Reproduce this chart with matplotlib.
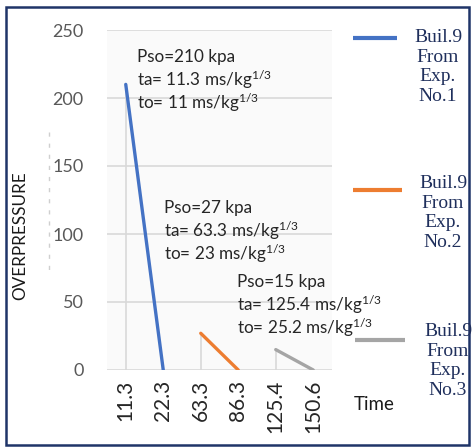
import matplotlib
matplotlib.use("Agg")
import matplotlib.pyplot as plt
from matplotlib.lines import Line2D
from matplotlib.patches import Rectangle

# ---- data ----
time_labels = ["11.3", "22.3", "63.3", "86.3", "125.4", "150.6"]
series_names = ["Buil.9\nFrom\nExp.\nNo.1", "Buil.9\nFrom\nExp.\nNo.2", "Buil.9\nFrom\nExp.\nNo.3"]
series_idx = [[0, 1], [2, 3], [4, 5]]
pso = [210, 27, 15]          # peak overpressure, kPa
ta = [11.3, 63.3, 125.4]     # arrival time
to = [11, 23, 25.2]          # positive phase duration
series_vals = [[pso[0], 0], [pso[1], 0], [pso[2], 0]]
colors = ["#4472C4", "#ED7D31", "#A5A5A5"]
y_ticks = [0, 50, 100, 150, 200, 250]

plt.rcParams["mathtext.fontset"] = "custom"
plt.rcParams["mathtext.rm"] = "Lato"
plt.rcParams["mathtext.it"] = "Lato"
plt.rcParams["font.family"] = ["Lato", "DejaVu Sans"]

W, H = 473, 448
fig = plt.figure(figsize=(W / 100, H / 100), dpi=100)
fig.patch.set_facecolor("white")


def fx(px):
    return px / W


def fy(py):
    return 1 - py / H


ax = fig.add_axes([fx(107), fy(370), fx(332) - fx(107), fy(30) - fy(370)])
ax.set_facecolor("#FAFAFA")
ax.set_xlim(-0.5, len(time_labels) - 0.5)
ax.set_ylim(0, 250)
ax.set_yticks(y_ticks)
ax.set_xticks(range(len(time_labels)))
ax.set_xticklabels(time_labels, rotation=90, va="top", ha="center")
for s in ax.spines.values():
    s.set_visible(False)
ax.tick_params(axis="y", length=0, pad=17, labelsize=13, labelcolor="#595959")
ax.tick_params(axis="x", length=0, pad=7, labelsize=15, labelcolor="#262626")
ax.yaxis.grid(True, color="#D9D9D9", linewidth=1.2)
ax.set_axisbelow(True)

lines = []
for idx, vals, c in zip(series_idx, series_vals, colors):
    # drop line from the peak down to the axis
    ax.vlines(idx[0], 0, vals[0], color="#D9D9D9", linewidth=1.2, zorder=1)
    ln, = ax.plot(idx, vals, color=c, linewidth=2.4, solid_capstyle="round", zorder=3)
    lines.append(ln)

# annotation blocks
ann_pos = [(137, 57), (164, 208), (237, 282)]
for (px, py), p, a, o in zip(ann_pos, pso, ta, to):
    texts = [f"Pso={p:g} kpa", f"ta= {a:g} ms/kg$^{{1/3}}$", f"to= {o:g} ms/kg$^{{1/3}}$"]
    for k, t in enumerate(texts):
        fig.text(fx(px), fy(py + 23 * k), t, fontsize=12.3, color="#262626",
                 ha="left", va="center")

# axis titles
fig.text(fx(20), fy(236), "OVERPRESSURE", rotation=90, fontsize=12.3,
         color="#1a1a1a", ha="center", va="center")
fig.text(fx(374), fy(405), "Time", fontsize=13.5, color="#1a1a1a",
         ha="center", va="center")

# legend entries
leg_line = [(353, 397, 38), (353, 402, 190), (355, 405, 340)]
leg_text = [(438, 67), (443, 213), (448, 361)]
for ln, (x0, x1, y), (tx, ty), name in zip(lines, leg_line, leg_text, series_names):
    fig.add_artist(Line2D([fx(x0), fx(x1)], [fy(y), fy(y)], color=ln.get_color(),
                          linewidth=3, solid_capstyle="butt"))
    fig.text(fx(tx), fy(ty), name, family="Liberation Serif", fontsize=14,
             color="#1F2F5C", ha="center", va="center", multialignment="center",
             linespacing=1.18)

# faint dashed guide left of the value axis
fig.add_artist(Line2D([fx(49), fx(49)], [fy(132), fy(270)], color="#CFCFCF",
                      linewidth=1, linestyle=(0, (3, 5))))

# outer frame
fig.add_artist(Rectangle((fx(6), fy(445)), fx(469) - fx(6), fy(7) - fy(445),
                         fill=False, edgecolor="#1F3468", linewidth=1.8,
                         transform=fig.transFigure))

fig.savefig("out.png", dpi=100, facecolor="white")
